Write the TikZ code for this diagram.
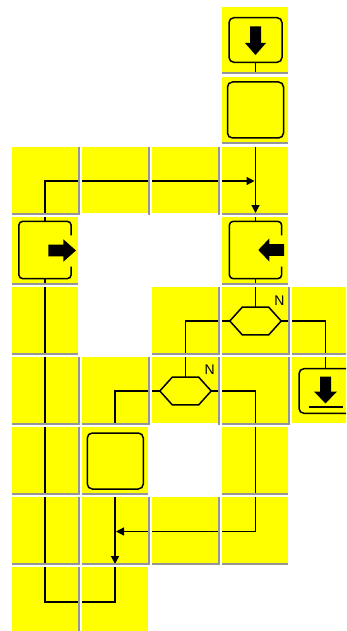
\documentclass[tikz,border=0pt]{standalone}
\usepackage{fontspec}
\setmainfont{Liberation Sans}
\usetikzlibrary{arrows.meta,calc}
\definecolor{cellyellow}{RGB}{255,255,0}
\definecolor{sepgray}{RGB}{150,150,150}
\begin{document}
\begin{tikzpicture}[x=1pt,y=-1pt,
  conn/.style={line width=1.3pt},
  arr/.style={conn,-{Triangle[length=8pt,width=8pt]}},
  outline/.style={line width=1.5pt},
  termnode/.style={draw,outline,rounded corners=5pt,minimum width=53pt,minimum height=44.7pt,inner sep=0pt},
  boxnode/.style={draw,outline,rounded corners=5pt,minimum width=56pt,minimum height=56pt,inner sep=0pt},
  loopnode/.style={minimum width=52pt,minimum height=57pt,inner sep=0pt},
  hexnode/.style={minimum width=51pt,minimum height=27.3pt,inner sep=0pt},
  lbl/.style={inner sep=0pt,font=\fontsize{14}{14}\selectfont}
]
\useasboundingbox (0,0) rectangle (346,631);
\clip (0,0) rectangle (346,631);

% cells
\foreach \r/\c in {1/4,2/4,3/1,3/2,3/3,3/4,4/1,4/4,5/1,5/3,5/4,5/5,6/1,6/2,6/3,6/4,6/5,7/1,7/2,7/4,8/1,8/2,8/3,8/4,9/1,9/2}{
  \pgfmathsetmacro\xo{12+70*(\c-1)}
  \pgfmathsetmacro\yo{7+70*(\r-1)}
  \fill[cellyellow] (\xo,\yo) rectangle ({\xo+66},{\yo+65.5});
}

% nodes
\node[termnode] (start) at (255.5,40) {};
\begin{scope}[shift={(start.center)}]
  \fill (-5.5,-13.5) -- (5.5,-13.5) -- (5.5,3) -- (10.5,3) -- (0,15) -- (-10.5,3) -- (-5.5,3) -- cycle;
\end{scope}

\node[boxnode] (proc1) at (255.5,110) {};
\node[boxnode] (proc2) at (115.3,461) {};

\node[loopnode] (loopL) at (45,250) {};
\draw[outline,rounded corners=4pt] ($(loopL.north east)+(0,14)$) -- (loopL.north east) -- (loopL.north west) -- (loopL.south west) -- (loopL.south east) -- ($(loopL.south east)+(0,-12)$);
\begin{scope}[shift={(loopL.center)}]
  \fill (3.3,-5.3) -- (18.3,-5.3) -- (18.3,-10.7) -- (31,0.5) -- (18.3,11.7) -- (18.3,6.3) -- (3.3,6.3) -- cycle;
\end{scope}

\node[loopnode] (loopR) at (255.5,250) {};
\draw[outline,rounded corners=4pt] ($(loopR.north east)+(0,14)$) -- (loopR.north east) -- (loopR.north west) -- (loopR.south west) -- (loopR.south east) -- ($(loopR.south east)+(0,-12)$);
\begin{scope}[shift={(loopR.center)}]
  \fill (2.8,0) -- (13.8,-11.5) -- (13.8,-5.8) -- (28.5,-5.8) -- (28.5,5.8) -- (13.8,5.8) -- (13.8,11.5) -- cycle;
\end{scope}

\node[hexnode] (hex1) at (255.5,321) {};
\draw[outline] (hex1.west) -- ($(hex1.north west)+(12.5,0)$) -- ($(hex1.north east)+(-12.5,0)$) -- (hex1.east) -- ($(hex1.south east)+(-12.5,0)$) -- ($(hex1.south west)+(12.5,0)$) -- cycle;
\node[lbl] (n1) at (279.5,300.5) {N};

\node[hexnode] (hex2) at (185.5,391) {};
\draw[outline] (hex2.west) -- ($(hex2.north west)+(12.5,0)$) -- ($(hex2.north east)+(-12.5,0)$) -- (hex2.east) -- ($(hex2.south east)+(-12.5,0)$) -- ($(hex2.south west)+(12.5,0)$) -- cycle;
\node[lbl] (n2) at (209.7,370) {N};

\node[termnode] (endn) at (325.5,391) {};
\begin{scope}[shift={(endn.center)}]
  \fill (-5.5,-14.5) -- (5.5,-14.5) -- (5.5,0.5) -- (11.5,0.5) -- (0,12.5) -- (-11.5,0.5) -- (-5.5,0.5) -- cycle;
  \draw[line width=2pt] (-16.5,16) -- (17,16);
\end{scope}

% connector end points
\coordinate (s1) at (255.5,73);
\coordinate (m3top) at (255.5,147);
\coordinate (m3h) at (254.5,181);
\coordinate (m3bot) at (255.5,213);
\coordinate (c6b) at (115,424);
\coordinate (m8r) at (255.5,531.5);
\coordinate (m8) at (116,531.5);
\coordinate (m8top) at (115,497);
\coordinate (m8bot) at (115,564);
\coordinate (lb1) at (115,602);
\coordinate (lb2) at (45,602);

% connectors
\draw[conn] (start.south) -- (s1);
\draw[arr] (loopL.north) |- (m3h);
\draw[arr] (m3top) -- (m3bot);
\draw[conn] (m3bot) -- (loopR.north);
\draw[conn] (loopR.south) -- (hex1.north);
\draw[conn] (hex1.west) -| (hex2.north);
\draw[conn] (hex1.east) -| (endn.north);
\draw[conn] (hex2.west) -| (c6b);
\draw[arr] (hex2.east) -| (m8r) -- (m8);
\draw[arr] (m8top) -- (m8bot);
\draw[conn] (m8bot) -- (lb1) -- (lb2) -- (loopL.south);

% separators between vertically adjacent cells
\foreach \r/\c in {1/4,2/4,3/1,3/4,4/1,4/4,5/1,5/3,5/4,5/5,6/1,6/2,6/4,7/1,7/2,7/4,8/1,8/2}{
  \pgfmathsetmacro\xo{12+70*(\c-1)}
  \pgfmathsetmacro\yo{7+70*(\r-1)}
  \fill[white] (\xo,{\yo+65.5}) rectangle ({\xo+66},{\yo+70});
  \fill[sepgray] (\xo,{\yo+65.5}) rectangle ({\xo+66},{\yo+67.5});
}
\foreach \r/\c in {8/3,8/4}{
  \pgfmathsetmacro\xo{12+70*(\c-1)}
  \pgfmathsetmacro\yo{7+70*(\r-1)}
  \fill[sepgray] (\xo,{\yo+65.5}) rectangle ({\xo+66},{\yo+67.5});
}
% separators between horizontally adjacent cells
\foreach \r/\c in {3/1,3/2,3/3,5/3,5/4,6/1,6/2,6/3,6/4,7/1,8/1,8/2,8/3,9/1}{
  \pgfmathsetmacro\xo{12+70*(\c-1)}
  \pgfmathsetmacro\yo{7+70*(\r-1)}
  \fill[white] ({\xo+66},\yo) rectangle ({\xo+70},{\yo+65.5});
  \fill[sepgray] ({\xo+66.3},\yo) rectangle ({\xo+68.3},{\yo+67.5});
}
\end{tikzpicture}
\end{document}
